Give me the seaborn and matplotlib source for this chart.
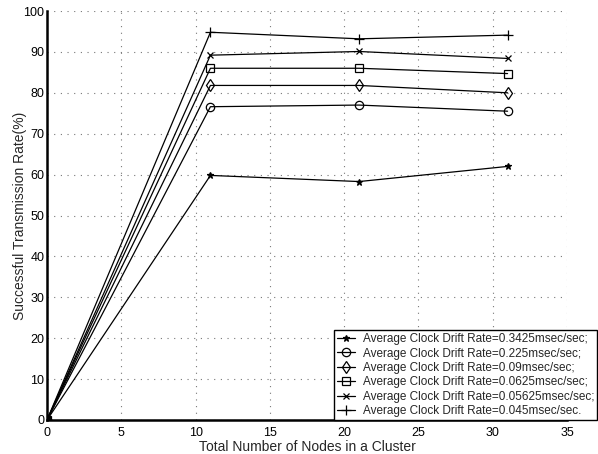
import matplotlib
matplotlib.use("Agg")
import matplotlib.pyplot as plt
import seaborn as sns
import pandas as pd

nodes = [0, 11, 21, 31]
labels = [
    "Average Clock Drift Rate=0.3425msec/sec;",
    "Average Clock Drift Rate=0.225msec/sec;",
    "Average Clock Drift Rate=0.09msec/sec;",
    "Average Clock Drift Rate=0.0625msec/sec;",
    "Average Clock Drift Rate=0.05625msec/sec;",
    "Average Clock Drift Rate=0.045msec/sec.",
]
rate_03425 = [0, 59.8, 58.3, 62.0]
rate_0225 = [0, 76.6, 77.0, 75.5]
rate_009 = [0, 81.8, 81.8, 80.0]
rate_00625 = [0, 86.0, 86.0, 84.7]
rate_005625 = [0, 89.2, 90.1, 88.4]
rate_0045 = [0, 94.8, 93.2, 94.1]
series = [rate_03425, rate_0225, rate_009, rate_00625, rate_005625, rate_0045]
markers = ["*", "o", "d", "s", "x", "+"]
msizes = [5, 6, 6, 5.5, 5, 7]
xticks = [0, 5, 10, 15, 20, 25, 30, 35]
yticks = [0, 10, 20, 30, 40, 50, 60, 70, 80, 90, 100]

sns.set_style("white")
plt.rcParams["font.family"] = ["Liberation Sans", "DejaVu Sans"]

fig = plt.figure(figsize=(5.98, 4.54), dpi=100)
ax = fig.add_axes([47/598, 1 - 420/454, (567 - 47)/598, (420 - 11)/454])

for lab, vals, mk, ms in zip(labels, series, markers, msizes):
    df = pd.DataFrame({"x": nodes, "y": vals})
    sns.lineplot(data=df, x="x", y="y", ax=ax, color="black", linewidth=0.9,
                 marker=mk, markersize=ms,
                 markerfacecolor="none" if mk in ("o", "d", "s") else "black",
                 markeredgecolor="black", markeredgewidth=0.9, label=lab)

ax.set_xlim(0, 35)
ax.set_ylim(0, 100)
ax.set_xticks(xticks)
ax.set_yticks(yticks)
ax.tick_params(direction="in", length=4, width=1.2, labelsize=9,
               colors="black")
ax.tick_params(axis="x", pad=5)
ax.tick_params(axis="y", pad=2)
ax.grid(True, linestyle=(0, (1, 5)), color="#777777", linewidth=0.8)
for s in ["top", "right"]:
    ax.spines[s].set_visible(False)
for s in ["left", "bottom"]:
    ax.spines[s].set_linewidth(1.8)
    ax.spines[s].set_color("black")
ax.set_xlabel("Total Number of Nodes in a Cluster", fontsize=10, labelpad=1)
ax.set_ylabel("Successful Transmission Rate(%)", fontsize=10, labelpad=-3)

leg = ax.legend(loc="lower left", bbox_to_anchor=(334/598, 34/454),
                bbox_transform=fig.transFigure, fontsize=8.5, frameon=True,
                fancybox=False, borderaxespad=0, handlelength=1.5,
                labelspacing=0.2, borderpad=0.25, handletextpad=0.7)
leg.get_frame().set_edgecolor("black")
leg.get_frame().set_linewidth(1.0)
leg.get_frame().set_alpha(1)

fig.savefig("out.png", dpi=100)
